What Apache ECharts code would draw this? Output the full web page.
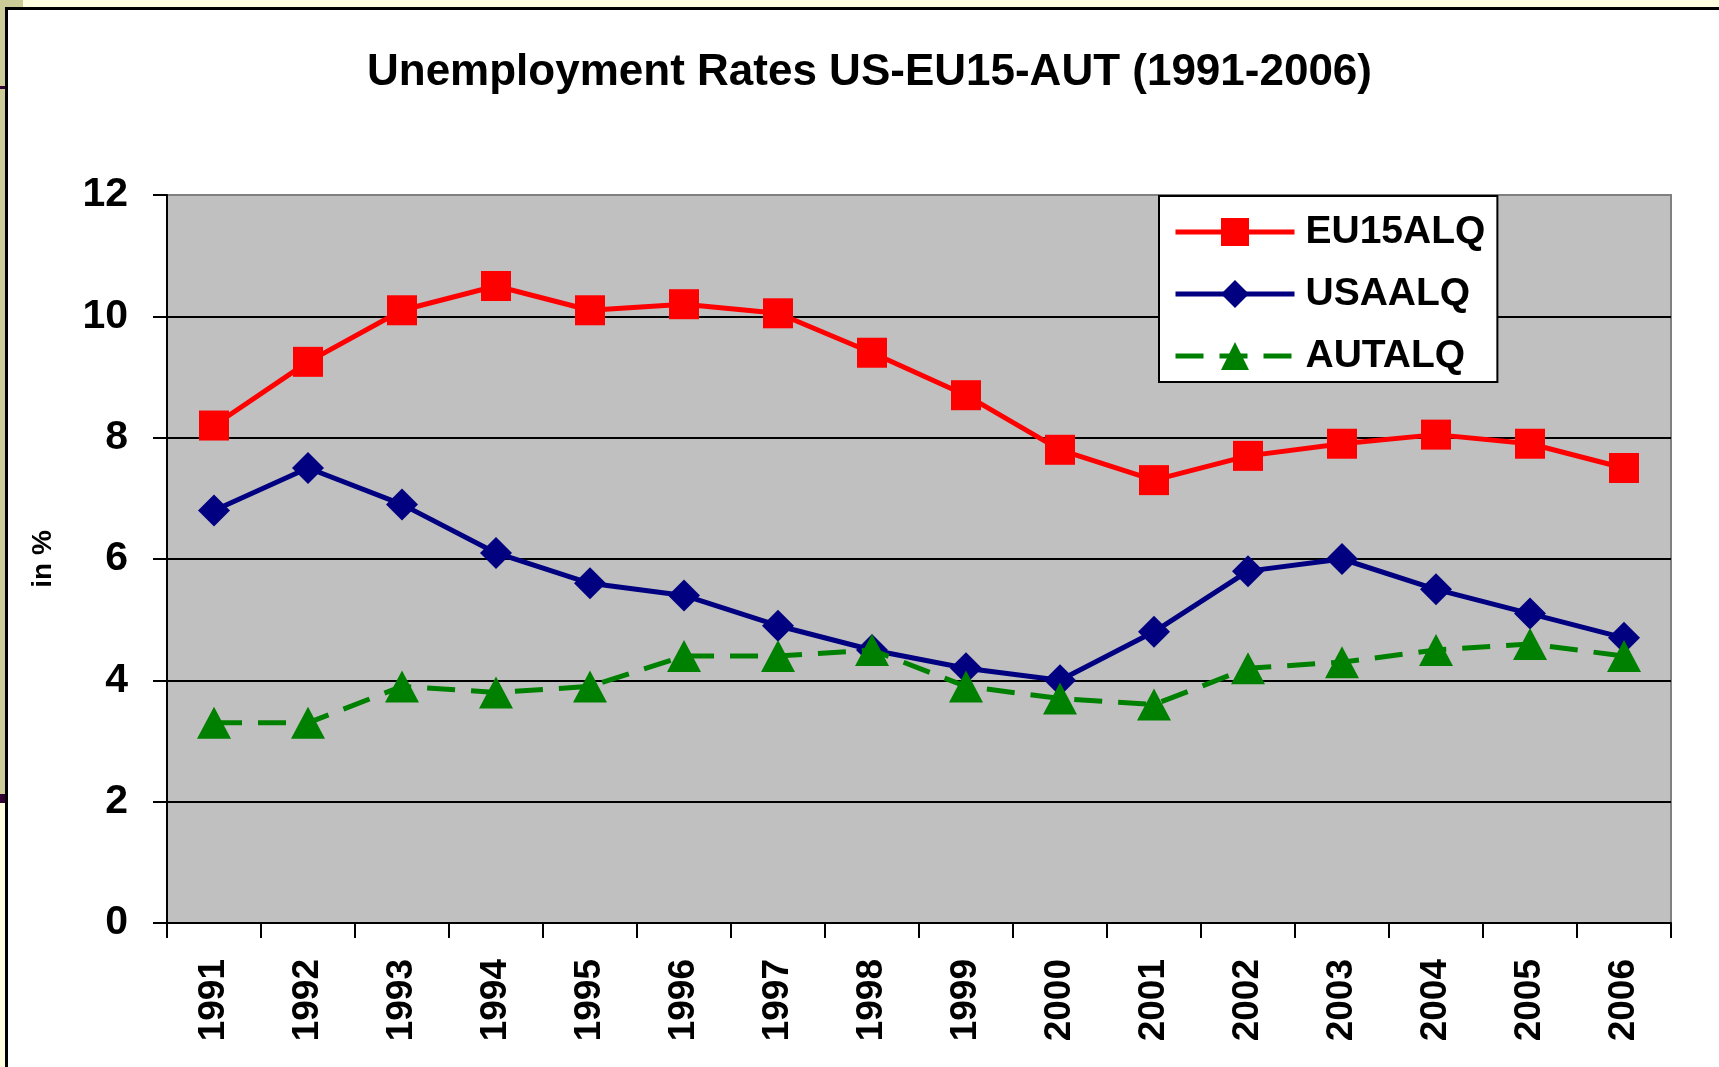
<!DOCTYPE html>
<html>
<head>
<meta charset="utf-8">
<script src="https://cdn.jsdelivr.net/npm/echarts@6/dist/echarts.min.js"></script>
<style>
html,body{margin:0;padding:0;background:#fff;}
#c{width:1719px;height:1067px;}
</style>
</head>
<body>
<div id="c"></div>
<script>
var years = ['1991','1992','1993','1994','1995','1996','1997','1998','1999','2000','2001','2002','2003','2004','2005','2006'];
var eu15 = [8.2, 9.25, 10.1, 10.5, 10.1, 10.2, 10.05, 9.4, 8.7, 7.8, 7.3, 7.7, 7.9, 8.05, 7.9, 7.5];
var usa  = [6.8, 7.5, 6.9, 6.1, 5.6, 5.4, 4.9, 4.5, 4.2, 4.0, 4.8, 5.8, 6.0, 5.5, 5.1, 4.7];
var aut  = [3.3, 3.3, 3.9, 3.8, 3.9, 4.4, 4.4, 4.5, 3.9, 3.7, 3.6, 4.2, 4.3, 4.5, 4.6, 4.4];
var yTicks = [0, 2, 4, 6, 8, 10, 12];

var FONT = '"Liberation Sans", Arial, sans-serif';
var chart = echarts.init(document.getElementById('c'), null, {renderer: 'canvas'});
chart.setOption({
  animation: false,
  backgroundColor: '#ffffff',
  graphic: [
    {type: 'rect', shape: {x: 0, y: 0, width: 1719, height: 8}, style: {fill: '#FFFFE0'}, z: 0},
    {type: 'rect', shape: {x: 0, y: 0, width: 23, height: 8}, style: {fill: '#CCCC99'}, z: 0},
    {type: 'rect', shape: {x: 0, y: 0, width: 6, height: 794}, style: {fill: '#CCCC99'}, z: 0},
    {type: 'rect', shape: {x: 0, y: 86, width: 6, height: 3}, style: {fill: '#330033'}, z: 0},
    {type: 'rect', shape: {x: 0, y: 794, width: 6, height: 9}, style: {fill: '#330033'}, z: 0},
    {type: 'rect', shape: {x: 0, y: 803, width: 6, height: 264}, style: {fill: '#FFFFE0'}, z: 0},
    {type: 'rect', shape: {x: 5, y: 7, width: 1714, height: 3}, style: {fill: '#000000'}, z: 1},
    {type: 'rect', shape: {x: 5, y: 7, width: 3, height: 1060}, style: {fill: '#000000'}, z: 1}
  ],
  title: {
    text: 'Unemployment Rates US-EU15-AUT (1991-2006)',
    left: 362,
    top: 46,
    textStyle: {fontFamily: FONT, fontWeight: 'bold', fontSize: 44, color: '#000'}
  },
  legend: {
    orient: 'vertical',
    left: 1159,
    top: 196,
    backgroundColor: '#ffffff',
    borderColor: '#000000',
    borderWidth: 2,
    borderRadius: 0,
    padding: [16, 12, 6, 14],
    itemWidth: 119,
    itemHeight: 35,
    itemGap: 22,
    lineStyle: {width: 5},
    textStyle: {fontFamily: FONT, fontWeight: 'bold', fontSize: 39, color: '#000', lineHeight: 40, padding: [0, 0, 0, 6]},
    data: ['EU15ALQ', 'USAALQ', 'AUTALQ']
  },
  grid: {
    left: 167, top: 195, width: 1504, height: 728,
    show: true, backgroundColor: '#C0C0C0', borderColor: '#808080', borderWidth: 2
  },
  xAxis: {
    type: 'category',
    data: years,
    boundaryGap: true,
    axisLine: {lineStyle: {color: '#000', width: 2}},
    axisTick: {show: true, length: 15, interval: 0, lineStyle: {color: '#000', width: 2}},
    axisLabel: {interval: 0, rotate: 90, margin: 36, fontFamily: FONT, fontWeight: 'bold', fontSize: 37, color: '#000'},
    splitLine: {show: false}
  },
  yAxis: {
    type: 'value',
    min: yTicks[0], max: yTicks[yTicks.length - 1], interval: 2,
    name: 'in %',
    nameLocation: 'middle',
    nameRotate: 90,
    nameGap: 110,
    nameTextStyle: {fontFamily: FONT, fontWeight: 'bold', fontSize: 28, color: '#000'},
    axisLine: {show: true, lineStyle: {color: '#000', width: 2}},
    axisTick: {show: true, length: 14, lineStyle: {color: '#000', width: 2}},
    axisLabel: {margin: 39, fontFamily: FONT, fontWeight: 'bold', fontSize: 41, color: '#000'},
    splitLine: {show: true, lineStyle: {color: ['#000', '#000', '#000', '#000', '#000', '#000', '#808080'], width: 2}}
  },
  series: [
    {
      name: 'EU15ALQ', type: 'line', data: eu15,
      symbol: 'rect', symbolSize: 30,
      lineStyle: {color: '#FF0000', width: 5},
      itemStyle: {color: '#FF0000'}, z: 2
    },
    {
      name: 'USAALQ', type: 'line', data: usa,
      symbol: 'diamond', symbolSize: 32,
      lineStyle: {color: '#000080', width: 5},
      itemStyle: {color: '#000080'}, z: 3
    },
    {
      name: 'AUTALQ', type: 'line', data: aut,
      symbol: 'triangle', symbolSize: [34, 32],
      lineStyle: {color: '#008000', width: 5, type: [28, 16]},
      itemStyle: {color: '#008000'}, z: 4
    }
  ]
});
</script>
</body>
</html>
